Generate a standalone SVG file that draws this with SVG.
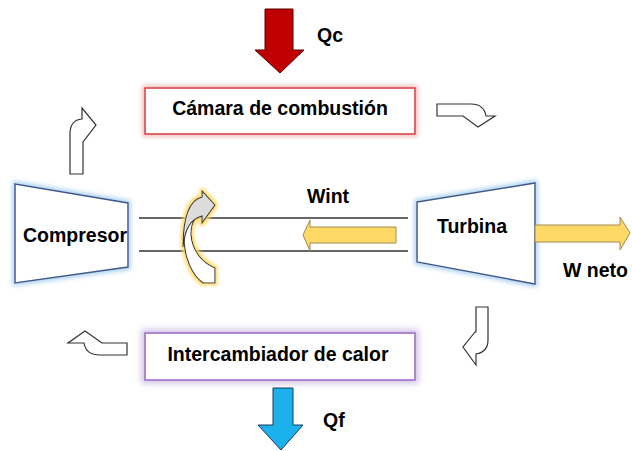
<svg xmlns="http://www.w3.org/2000/svg" width="632" height="451" viewBox="0 0 632 451">
<defs>
<style>
text{font-family:"Liberation Sans",Arial,sans-serif;font-weight:bold;font-size:19.5px;fill:#000}
.out{fill:#fff;stroke:#333;stroke-width:1.2;stroke-linejoin:miter}
.shaft{stroke:#333;stroke-width:1.3}
.mach{fill:#fff;stroke:#3f5a8c;stroke-width:1.5}
</style>
<filter id="gBlue" x="-20%" y="-20%" width="140%" height="140%">
<feMorphology in="SourceAlpha" operator="dilate" radius="2" result="d"/>
<feGaussianBlur in="d" stdDeviation="2" result="b"/>
<feFlood flood-color="#a9cfee" flood-opacity="0.9"/>
<feComposite in2="b" operator="in" result="g"/>
<feMerge><feMergeNode in="g"/><feMergeNode in="SourceGraphic"/></feMerge>
</filter>
<filter id="gRed" x="-10%" y="-30%" width="120%" height="160%">
<feMorphology in="SourceAlpha" operator="dilate" radius="1.5" result="d"/>
<feGaussianBlur in="d" stdDeviation="2" result="b"/>
<feFlood flood-color="#e8a0a0" flood-opacity="0.7"/>
<feComposite in2="b" operator="in" result="g"/>
<feMerge><feMergeNode in="g"/><feMergeNode in="SourceGraphic"/></feMerge>
</filter>
<filter id="gPurple" x="-10%" y="-40%" width="120%" height="180%">
<feMorphology in="SourceAlpha" operator="dilate" radius="3" result="d"/>
<feGaussianBlur in="d" stdDeviation="3" result="b"/>
<feFlood flood-color="#c9b4de" flood-opacity="0.8"/>
<feComposite in2="b" operator="in" result="g"/>
<feMerge><feMergeNode in="g"/><feMergeNode in="SourceGraphic"/></feMerge>
</filter>
<filter id="gYel" x="-40%" y="-20%" width="180%" height="140%">
<feMorphology in="SourceAlpha" operator="dilate" radius="2" result="d"/>
<feGaussianBlur in="d" stdDeviation="1.8" result="b"/>
<feFlood flood-color="#ffd966" flood-opacity="0.9"/>
<feComposite in2="b" operator="in" result="g"/>
<feMerge><feMergeNode in="g"/><feMergeNode in="SourceGraphic"/></feMerge>
</filter>
</defs>
<rect width="632" height="451" fill="#fff"/>

<g id="connectors">
  <line class="shaft" x1="139" y1="218" x2="408" y2="218"/>
  <line class="shaft" x1="139" y1="251" x2="408" y2="251"/>
  <path class="out" d="M70,174 L70,134 Q70,120 82,119 L82,108 L96,125 L83,142 L83,174 Z"/>
  <path class="out" d="M437,104 L471,104 Q484,104 486,116 L495,116 L478,127 L463,116 L437,116 Z"/>
  <path class="out" d="M476,307 L488,307 L488,340 Q488,352 476,354 L476,365 L463,347 L475,332 L476,332 Z"/>
  <path class="out" d="M127,343 L102,343 L85,331 L68,343 L84,343 Q86,355 100,355 L127,355 Z"/>
</g>

<g id="qc">
  <path d="M265,9 L293,9 L293,50 L304,50 L280,73 L255,50 L265,50 Z" fill="#c00000" stroke="#5a0000" stroke-width="1"/>
  <text x="317" y="42">Qc</text>
</g>

<g id="camara">
  <rect x="145" y="88" width="270" height="46" fill="#fff" stroke="#d9363e" stroke-width="1.5" filter="url(#gRed)"/>
  <text x="280" y="115" text-anchor="middle">Cámara de combustión</text>
</g>

<g id="compresor">
  <path class="mach" d="M15,184 L128,203 L128,267 L15,283 Z" filter="url(#gBlue)"/>
  <text x="75" y="242" text-anchor="middle">Compresor</text>
</g>

<g id="turbina">
  <path class="mach" d="M417,202 L535,183 L535,284 L417,262 Z" filter="url(#gBlue)"/>
  <text x="472" y="233" text-anchor="middle">Turbina</text>
</g>

<g id="rotacion" filter="url(#gYel)">
  <path d="M184,237 C184,258 192,275 203,283 L215,283 L215,268 C201,262 192,250 191,234 C191,227 192,223 195,219 C189,222 185,228 184,237 Z" fill="#fff" stroke="#333" stroke-width="1.1"/>
  <path d="M202,197 C189,200 183,218 183,247 C185,228 191,219 202,216 L202,223 L215,205 L202,191 Z" fill="#dcdcdc" stroke="#333" stroke-width="1.1"/>
</g>

<g id="wint">
  <path d="M396,227 L310,227 L310,220 L303,235 L310,251 L310,243 L396,243 Z" fill="#ffd966" stroke="#a08a50" stroke-width="1"/>
  <text x="307" y="203">Wint</text>
</g>

<g id="wneto">
  <path d="M535,225 L620,225 L620,217 L630,233 L620,250 L620,242 L535,242 Z" fill="#ffd966" stroke="#a08a50" stroke-width="1"/>
  <text x="563" y="277">W neto</text>
</g>

<g id="intercambiador">
  <rect x="145" y="333" width="270" height="47" fill="#fff" stroke="#9a66c8" stroke-width="1.5" filter="url(#gPurple)"/>
  <text x="278" y="361" text-anchor="middle">Intercambiador de calor</text>
</g>

<g id="qf">
  <path d="M273,388 L293,388 L293,425 L303,425 L281,450 L258,425 L273,425 Z" fill="#1cb0ec" stroke="#1a3a5a" stroke-width="1"/>
  <text x="323" y="427">Qf</text>
</g>
</svg>
